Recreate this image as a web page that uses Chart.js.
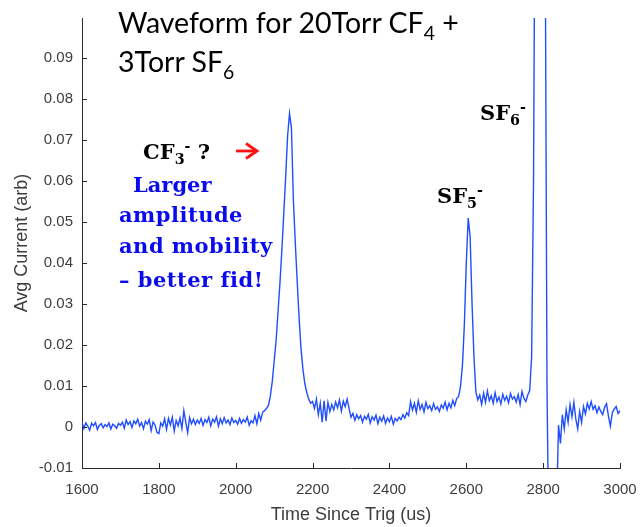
<!DOCTYPE html>
<html>
<head>
<meta charset="utf-8">
<script src="https://cdn.jsdelivr.net/npm/chart.js@4/dist/chart.umd.min.js"></script>
<style>
  html, body { margin: 0; padding: 0; background: #fff; }
  #wrap { position: relative; width: 641px; height: 527px; overflow: hidden; }
  canvas { position: absolute; left: 0; top: 0; }
  .lbl { position: absolute; white-space: pre; line-height: 1; }
  .lbl sub, .lbl sup { line-height: 0; font-size: 0.68em; }
  .title { font-family: "Lato", sans-serif; font-size: 28.5px; color: #000; }
  .ann { font-family: "DejaVu Serif", serif; font-weight: bold; font-size: 21px; }
  .wide { letter-spacing: 0.5px; }
  .blk { color: #000; }
  .blu { color: #0a0aee; }
</style>
</head>
<body>
<div id="wrap">
  <canvas id="c" width="641" height="527"></canvas>
  <div class="lbl title" style="left:118px; top:8px;">Waveform for 20Torr CF<sub>4</sub> +</div>
  <div class="lbl title" style="left:118px; top:47px;">3Torr SF<sub>6</sub></div>
  <div class="lbl ann blk" style="left:143px; top:141px;">CF<sub>3</sub><sup>-</sup> ?</div>
  <svg style="position:absolute; left:230px; top:138px;" width="34" height="26">
    <line x1="6" y1="13" x2="26" y2="13" stroke="#ff1010" stroke-width="2.8"/>
    <polyline points="16,5.5 27,13 16,20.5" fill="none" stroke="#ff1010" stroke-width="2.8"/>
  </svg>
  <div class="lbl ann blu" style="left:133px; top:174px;">Larger</div>
  <div class="lbl ann blu wide" style="left:119px; top:204px;">amplitude</div>
  <div class="lbl ann blu wide" style="left:119px; top:235px;">and mobility</div>
  <div class="lbl ann blu wide" style="left:119px; top:269px;">– better fid!</div>
  <div class="lbl ann blk" style="left:437px; top:185px;">SF<sub>5</sub><sup>-</sup></div>
  <div class="lbl ann blk" style="left:480px; top:102px;">SF<sub>6</sub><sup>-</sup></div>
</div>
<script>
// Averaged waveform, sampled every 5 us from 1600 us to 3000 us
const startTime = 1600;
const sampleStep = 5;
const avgCurrent = [
  // 1600-1695
  0.0012, -0.0004, 0.0010, 0.0002, -0.0008, 0.0009, 0.0003, 0.0011, -0.0006, 0.0004,
  0.0008, -0.0002, 0.0006, 0.0001, 0.0010, -0.0005, 0.0007, 0.0003, -0.0003, 0.0009,
  // 1700-1795
  0.0004, 0.0012, -0.0003, 0.0017, 0.0006, 0.0013, -0.0001, 0.0015, 0.0008, 0.0019,
  0.0002, 0.0011, -0.0004, 0.0014, 0.0007, 0.0018, -0.0009, 0.0012, 0.0005, -0.0013,
  // 1800-1895
  -0.0016, 0.0010, 0.0002, 0.0020, -0.0006, 0.0021, 0.0005, 0.0024, -0.0010, 0.0016,
  0.0003, 0.0022, -0.0004, 0.0040, 0.0012, -0.0014, 0.0023, 0.0008, 0.0019, 0.0006,
  // 1900-1995
  0.0017, 0.0009, 0.0021, 0.0004, 0.0018, 0.0011, 0.0024, 0.0003, 0.0019, 0.0012,
  0.0025, 0.0002, 0.0020, 0.0008, 0.0023, 0.0010, 0.0017, 0.0006, 0.0022, 0.0011,
  // 2000-2095
  0.0016, 0.0007, 0.0021, 0.0009, 0.0018, 0.0012, 0.0024, 0.0004, 0.0015, 0.0010,
  0.0028, 0.0008, 0.0033, 0.0017, 0.0036, 0.0040, 0.0045, 0.0052, 0.0075, 0.0110,
  // 2100-2195 (CF3- peak)
  0.0160, 0.0210, 0.0280, 0.0350, 0.0430, 0.0520, 0.0610, 0.0710, 0.0765, 0.0730,
  0.0555, 0.0450, 0.0355, 0.0265, 0.0190, 0.0140, 0.0105, 0.0084, 0.0068, 0.0058,
  // 2200-2295
  0.0062, 0.0045, 0.0068, 0.0030, 0.0058, 0.0012, 0.0064, 0.0015, 0.0060, 0.0038,
  0.0055, 0.0042, 0.0061, 0.0047, 0.0066, 0.0039, 0.0063, 0.0050, 0.0068, 0.0045,
  // 2300-2395
  0.0024, 0.0033, 0.0016, 0.0030, 0.0020, 0.0028, 0.0012, 0.0026, 0.0019, 0.0031,
  0.0010, 0.0025, 0.0017, 0.0029, 0.0008, 0.0024, 0.0014, 0.0027, 0.0009, 0.0022,
  // 2400-2495
  0.0013, 0.0026, 0.0007, 0.0021, 0.0015, 0.0024, 0.0018, 0.0030, 0.0022, 0.0035,
  0.0028, 0.0062, 0.0041, 0.0058, 0.0036, 0.0064, 0.0043, 0.0055, 0.0037, 0.0060,
  // 2500-2595
  0.0045, 0.0052, 0.0040, 0.0057, 0.0043, 0.0049, 0.0038, 0.0054, 0.0046, 0.0061,
  0.0042, 0.0058, 0.0047, 0.0065, 0.0052, 0.0070, 0.0074, 0.0100, 0.0150, 0.0250,
  // 2600-2695 (SF5- peak)
  0.0400, 0.0510, 0.0465, 0.0300, 0.0170, 0.0085, 0.0066, 0.0078, 0.0055, 0.0083,
  0.0060, 0.0088, 0.0064, 0.0076, 0.0058, 0.0084, 0.0062, 0.0073, 0.0056, 0.0080,
  // 2700-2795 (SF6- peak, off scale)
  0.0065, 0.0075, 0.0059, 0.0082, 0.0068, 0.0074, 0.0061, 0.0079, 0.0055, 0.0087,
  0.0070, 0.0062, 0.0078, 0.0089, 0.0170, 0.0600, 0.1600, 0.2400, 0.2800, 0.2700,
  // 2800-2895
  0.2200, 0.1300, 0.0100, -0.0300, -0.0450, -0.0420, -0.0350, -0.0200, 0.0005, -0.0040,
  0.0030, -0.0005, 0.0042, 0.0012, 0.0055, 0.0025, 0.0060, 0.0020, -0.0005, 0.0038,
  // 2900-3000
  0.0011, 0.0050, 0.0032, 0.0058, 0.0044, 0.0062, 0.0043, 0.0052, 0.0035, 0.0049,
  0.0038, 0.0030, 0.0048, 0.0057, 0.0026, 0.0002, 0.0035, 0.0044, 0.0050, 0.0033,
  0.0040
];

const timeTicks = [1600, 1800, 2000, 2200, 2400, 2600, 2800, 3000];
const currentTicks = [-0.01, 0, 0.01, 0.02, 0.03, 0.04, 0.05, 0.06, 0.07, 0.08, 0.09];
const currentTickLabels = ['-0.01', '0', '0.01', '0.02', '0.03', '0.04', '0.05', '0.06', '0.07', '0.08', '0.09'];

const points = avgCurrent.map((v, i) => ({ x: startTime + i * sampleStep, y: v }));

const axisColor = '#2b2b2b';
const labelColor = '#3d3d3d';

// Tick marks pointing into the plot area
const inwardTicks = {
  id: 'inwardTicks',
  afterDatasetsDraw(chart) {
    const { ctx, chartArea: a, scales: { x, y } } = chart;
    const len = 5;
    ctx.save();
    ctx.strokeStyle = axisColor;
    ctx.lineWidth = 1;
    ctx.beginPath();
    timeTicks.forEach(t => {
      const px = Math.round(x.getPixelForValue(t)) + 0.5;
      ctx.moveTo(px, a.bottom);
      ctx.lineTo(px, a.bottom - len);
    });
    currentTicks.forEach(v => {
      const py = Math.round(y.getPixelForValue(v)) + 0.5;
      ctx.moveTo(a.left, py);
      ctx.lineTo(a.left + len, py);
    });
    ctx.stroke();
    ctx.restore();
  }
};

Chart.defaults.font.family = '"Liberation Sans", Arial, sans-serif';

new Chart(document.getElementById('c'), {
  type: 'line',
  data: {
    datasets: [{
      data: points,
      borderColor: '#1f4dff',
      borderWidth: 1.4,
      pointRadius: 0,
      tension: 0,
      fill: false
    }]
  },
  options: {
    responsive: false,
    animation: false,
    devicePixelRatio: 1,
    layout: { padding: { top: 18, right: 21, left: 0, bottom: 0 } },
    plugins: { legend: { display: false }, tooltip: { enabled: false }, title: { display: false } },
    scales: {
      x: {
        type: 'linear',
        min: 1600,
        max: 3000,
        afterBuildTicks: s => { s.ticks = timeTicks.map(v => ({ value: v })); },
        afterFit: s => { s.height = 59; s.paddingLeft = 0; s.paddingRight = 0; },
        grid: { display: false, drawTicks: false },
        border: { display: true, color: axisColor, width: 1 },
        ticks: { color: labelColor, font: { size: 15 }, padding: 13, maxRotation: 0, autoSkip: false,
                 callback: v => String(v) },
        title: { display: true, text: 'Time Since Trig (us)', color: labelColor,
                 font: { size: 18 }, padding: { top: 0, bottom: 1 } }
      },
      y: {
        type: 'linear',
        min: -0.01,
        max: 0.0998,
        afterBuildTicks: s => { s.ticks = currentTicks.map(v => ({ value: v })); },
        afterFit: s => { s.width = 82; s.paddingTop = 0; s.paddingBottom = 0; },
        grid: { display: false, drawTicks: false },
        border: { display: true, color: axisColor, width: 1 },
        ticks: { color: labelColor, font: { size: 15 }, padding: 9, autoSkip: false,
                 callback: (v, i) => currentTickLabels[i] },
        title: { display: true, text: 'Avg Current (arb)', color: labelColor,
                 font: { size: 18 }, padding: { top: 11, bottom: 0 } }
      }
    }
  },
  plugins: [inwardTicks]
});
</script>
</body>
</html>
